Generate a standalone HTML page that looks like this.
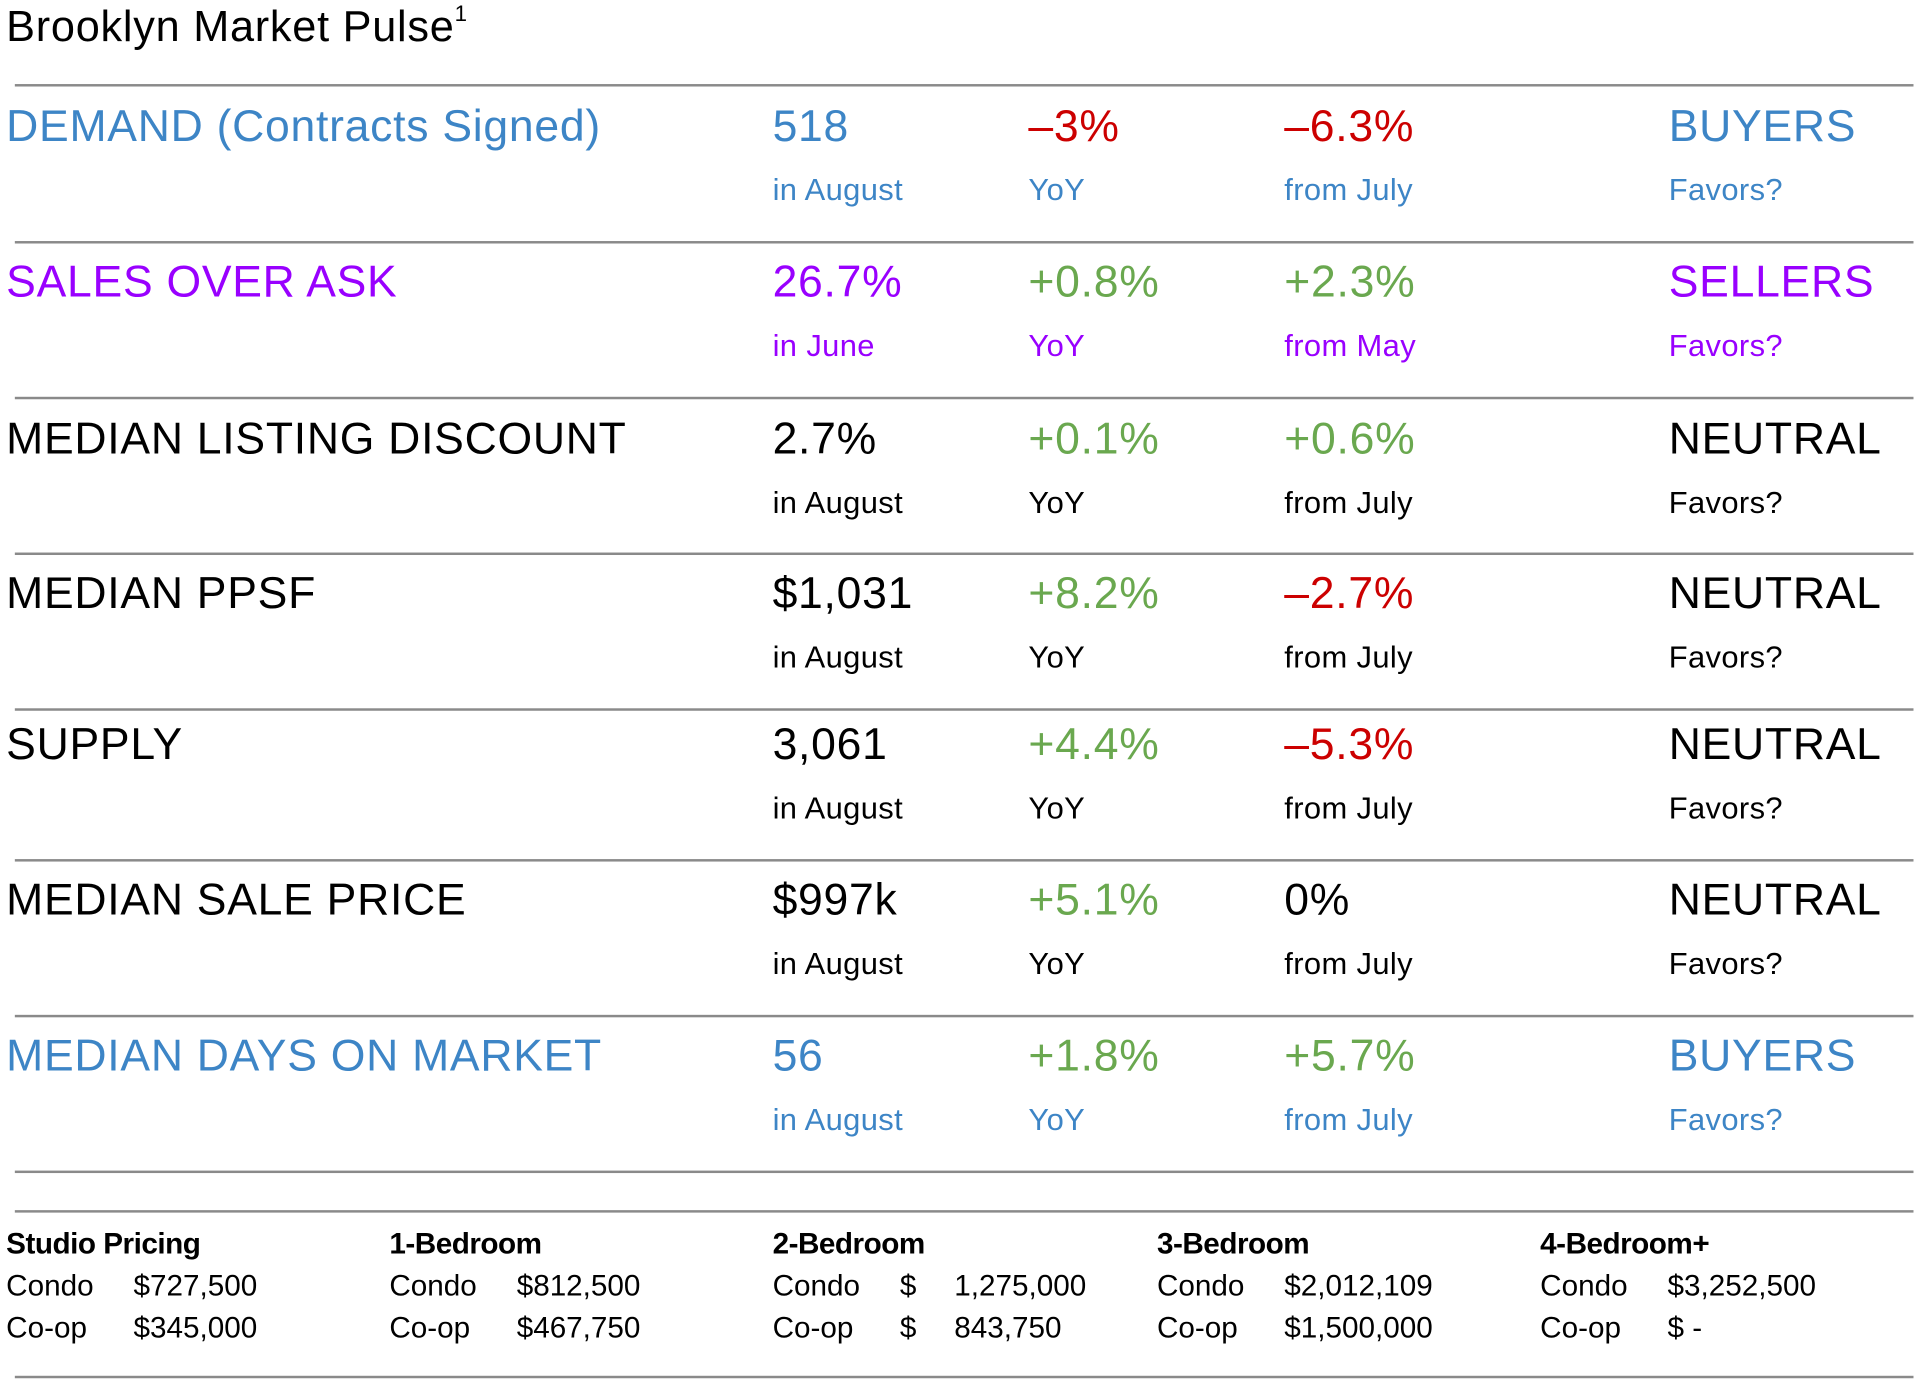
<!DOCTYPE html>
<html><head><meta charset="utf-8">
<style>
html,body{margin:0;padding:0;background:#fff;}
body{width:1916px;height:1380px;overflow:hidden;position:relative;font-family:"Liberation Sans",sans-serif;}
#wrap{position:absolute;left:0;top:0;width:1550px;height:1116px;transform:scale(1.2361);transform-origin:0 0;}
.t{position:absolute;white-space:nowrap;line-height:1;}
.hr{position:absolute;left:12px;width:1536px;height:2px;background:#8a8a8a;}
.m{font-size:36px;letter-spacing:0.6px;}
.s{font-size:25px;letter-spacing:0.3px;}
.b{font-size:24px;font-weight:bold;letter-spacing:-0.4px;}
.p{font-size:24px;}
.blue{color:#3d85c6}.purple{color:#9900ff}.red{color:#cc0000}.green{color:#6aa84f}.black{color:#000}
</style></head><body>
<div id="wrap">
<div class="t" style="left:5px;top:4px;font-size:35px;letter-spacing:0.6px">Brooklyn Market Pulse<sup style="font-size:18px;vertical-align:top;position:relative;top:-2px">1</sup></div>
</div>
<script>
const lineYs=[69,196,322,448,574,696,822,948,980,1114];
const labels=["DEMAND (Contracts Signed)","SALES OVER ASK","MEDIAN LISTING DISCOUNT","MEDIAN PPSF","SUPPLY","MEDIAN SALE PRICE","MEDIAN DAYS ON MARKET"];
const values=["518","26.7%","2.7%","$1,031","3,061","$997k","56"];
const periods=["in August","in June","in August","in August","in August","in August","in August"];
const yoy=["\u20133%","+0.8%","+0.1%","+8.2%","+4.4%","+5.1%","+1.8%"];
const mom=["\u20136.3%","+2.3%","+0.6%","\u20132.7%","\u20135.3%","0%","+5.7%"];
const momLabel=["from July","from May","from July","from July","from July","from July","from July"];
const favors=["BUYERS","SELLERS","NEUTRAL","NEUTRAL","NEUTRAL","NEUTRAL","BUYERS"];
const rowColor=["blue","purple","black","black","black","black","blue"];
const rowCenters=[104,230,357,482,604,730,856];
const wrap=document.getElementById('wrap');
lineYs.forEach((y,i)=>{const d=document.createElement('div');d.className='hr';d.style.top=(y-1)+'px';


wrap.appendChild(d);});
function txt(cls,x,y,s,name){const d=document.createElement('div');d.className='t '+cls;d.style.left=x+'px';d.style.top=y+'px';d.textContent=s;


wrap.appendChild(d);return d;}
function chg(s){if(s.startsWith('+'))return 'green';if(s.startsWith('\u2013'))return 'red';return 'black';}
labels.forEach((l,i)=>{const c=rowCenters[i];const col=rowColor[i];
 const mt=c-20, st=c+52-14;
 txt('m '+col,5,mt,l,'metric-label');
 txt('m '+col,625,mt,values[i],'metric-value');
 txt('s '+col,625,st,periods[i],'metric-period');
 txt('m '+chg(yoy[i]),832,mt,yoy[i],'yoy-change');
 txt('s '+col,832,st,'YoY','yoy-label');
 txt('m '+chg(mom[i]),1039,mt,mom[i],'mom-change');
 txt('s '+col,1039,st,momLabel[i],'mom-label');
 txt('m '+col,1350,mt,favors[i],'favors-value');
 txt('s '+col,1350,st,'Favors?','favors-label');
});
const bedTypes=["Studio Pricing","1-Bedroom","2-Bedroom","3-Bedroom","4-Bedroom+"];
const condoPrices=["$727,500","$812,500","$\u2003 1,275,000","$2,012,109","$3,252,500"];
const coopPrices=["$345,000","$467,750","$\u2003 843,750","$1,500,000","$ -"];
const colXs=[5,315,625,936,1246];
bedTypes.forEach((b,i)=>{const x=colXs[i];
 txt('b',x,1008-13,b,'pricing-header');
 txt('p',x,1042-13,'Condo','condo-label');
 txt('p',x,1076-13,'Co-op','coop-label');
 txt('p',x+103,1042-13,condoPrices[i],'condo-price');
 txt('p',x+103,1076-13,coopPrices[i],'coop-price');
});
</script>
</body></html>
